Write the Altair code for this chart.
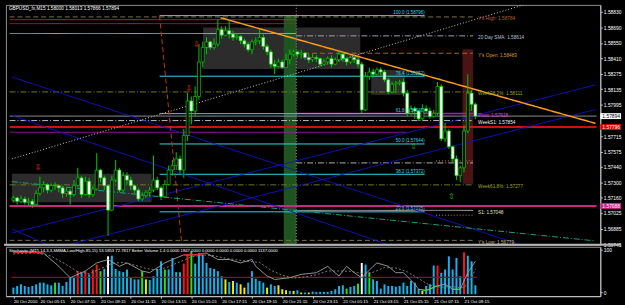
import json
import altair as alt
import pandas as pd

# ---------------- GBPUSD M15 candles (20 Oct 03:30 -> 21 Oct 10:00) ----------------
first_open = 1.5714
closes = [1.5716, 1.5713, 1.5715, 1.5712, 1.5713, 1.5710, 1.5720, 1.5725, 1.5728, 1.5723,
          1.5727, 1.5727, 1.5725, 1.5720, 1.5722, 1.5719, 1.5727, 1.5734, 1.5719, 1.5731,
          1.5719, 1.5724, 1.5741, 1.5734, 1.5727, 1.5705, 1.5732, 1.5741, 1.5723, 1.5736,
          1.5732, 1.5727, 1.5723, 1.5715, 1.5718, 1.5721, 1.5723, 1.5732, 1.5725, 1.5717,
          1.5728, 1.5741, 1.5745, 1.5751, 1.5741, 1.5772, 1.5803, 1.5794, 1.5807, 1.5838,
          1.5851, 1.5856, 1.5851, 1.5854, 1.5867, 1.5862, 1.5866, 1.5863, 1.5860, 1.5861,
          1.5857, 1.5854, 1.5849, 1.5856, 1.5857, 1.5860, 1.5852, 1.5847, 1.5836, 1.5834,
          1.5838, 1.5833, 1.5840, 1.5845, 1.5847, 1.5845, 1.5846, 1.5842, 1.5840, 1.5842,
          1.5841, 1.5836, 1.5838, 1.5841, 1.5836, 1.5840, 1.5845, 1.5841, 1.5838, 1.5842,
          1.5840, 1.5836, 1.5795, 1.5825, 1.5829, 1.5827, 1.5831, 1.5829, 1.5822, 1.5811,
          1.5818, 1.5819, 1.5820, 1.5810, 1.5792, 1.5796, 1.5794, 1.5787, 1.5796, 1.5794,
          1.5789, 1.5792, 1.5816, 1.5769, 1.5776, 1.5762, 1.5751, 1.5736, 1.5743, 1.5776,
          1.5810, 1.5800, 1.57894]
highs = [1.5718, 1.5717, 1.5718, 1.5717, 1.5716, 1.5715, 1.5723, 1.5735, 1.5731, 1.5729,
         1.5729, 1.5730, 1.5728, 1.5727, 1.5725, 1.5724, 1.5732, 1.5743, 1.5736, 1.5735,
         1.5734, 1.5727, 1.5756, 1.5742, 1.5736, 1.5728, 1.5736, 1.5750, 1.5743, 1.5739,
         1.5739, 1.5735, 1.5727, 1.5725, 1.5721, 1.5723, 1.5726, 1.5754, 1.5735, 1.5727,
         1.5732, 1.5745, 1.5750, 1.5757, 1.5754, 1.5778, 1.5810, 1.5807, 1.5816, 1.5854,
         1.5856, 1.5860, 1.5857, 1.5859, 1.5876, 1.5870, 1.5870, 1.5875, 1.5866, 1.5864,
         1.5862, 1.5859, 1.5856, 1.5858, 1.5860, 1.5867, 1.5863, 1.5854, 1.5849, 1.5840,
         1.5841, 1.5840, 1.5845, 1.5849, 1.5849, 1.5848, 1.5849, 1.5847, 1.5845, 1.5845,
         1.5844, 1.5842, 1.5841, 1.5843, 1.5844, 1.5842, 1.5849, 1.5847, 1.5842, 1.5844,
         1.5844, 1.5842, 1.5838, 1.5829, 1.5833, 1.5832, 1.5833, 1.5833, 1.5831, 1.5824,
         1.5820, 1.5821, 1.5822, 1.5823, 1.5813, 1.5799, 1.5798, 1.5795, 1.5800, 1.5799,
         1.5797, 1.5795, 1.5820, 1.5818, 1.5783, 1.5778, 1.5763, 1.5754, 1.5745, 1.5781,
         1.5827, 1.5813, 1.58013]
lows = [1.5712, 1.5710, 1.5711, 1.5710, 1.5709, 1.5707, 1.5709, 1.5718, 1.5721, 1.5720,
        1.5721, 1.5723, 1.5721, 1.5716, 1.5717, 1.5710, 1.5717, 1.5726, 1.5716, 1.5718,
        1.5716, 1.5717, 1.5723, 1.5730, 1.5723, 1.5682, 1.5704, 1.5730, 1.5721, 1.5721,
        1.5728, 1.5723, 1.5720, 1.5713, 1.5713, 1.5716, 1.5717, 1.5721, 1.5723, 1.5714,
        1.5716, 1.5727, 1.5736, 1.5741, 1.5738, 1.5734, 1.5767, 1.5782, 1.5789, 1.5804,
        1.5833, 1.5845, 1.5849, 1.5849, 1.5852, 1.5859, 1.5861, 1.5859, 1.5857, 1.5858,
        1.5854, 1.5851, 1.5847, 1.5845, 1.5853, 1.5854, 1.5849, 1.5844, 1.5833, 1.5827,
        1.5833, 1.5832, 1.5833, 1.5836, 1.5843, 1.5842, 1.5841, 1.5840, 1.5837, 1.5838,
        1.5838, 1.5834, 1.5835, 1.5836, 1.5833, 1.5835, 1.5838, 1.5838, 1.5835, 1.5836,
        1.5837, 1.5833, 1.5792, 1.5794, 1.5822, 1.5824, 1.5826, 1.5826, 1.5820, 1.5809,
        1.5810, 1.5810, 1.5817, 1.5807, 1.5789, 1.5790, 1.5787, 1.5785, 1.5786, 1.5792,
        1.5787, 1.5788, 1.5790, 1.5767, 1.5766, 1.5760, 1.5748, 1.5732, 1.5730, 1.5739,
        1.5774, 1.5794, 1.57866]

# ---------------- Better Volume ----------------
volumes = [840, 1050, 1260, 1050, 924, 1050, 1260, 1470, 1470, 1260,
           1134, 1470, 1470, 1050, 1554, 2100, 2184, 2940, 2730, 2940,
           2520, 3150, 3780, 2940, 3234, 4830, 4914, 3234, 2940, 2814,
           3150, 2184, 1890, 1890, 2940, 1890, 1806, 2310, 3234, 4200,
           3150, 3150, 4620, 2814, 2814, 3906, 5040, 5460, 3906, 5250,
           5040, 3990, 3360, 3234, 2940, 2310, 1890, 1554, 1680, 1470,
           1260, 840, 1470, 2940, 1974, 1680, 1470, 840, 1260, 1050,
           1134, 630, 504, 420, 420, 504, 210, 210, 210, 336,
           294, 294, 294, 294, 420, 630, 1050, 1134, 714, 924,
           1050, 1344, 3990, 3780, 2730, 1890, 1680, 714, 1260, 1050,
           1050, 966, 1050, 1470, 1050, 1680, 1470, 630, 420, 1050,
           1260, 3654, 3654, 2730, 3150, 4830, 3150, 4620, 2310, 5334,
           4914, 4200, 1137]
vol_kind = list("bbbbbbbbbb" "bgbbbbbrbr" "brrgbwbbbb" "bbbbgybbbb" "gbbbbrrgbb"
                "bbbbbbybyb" "yybbbbbybb" "yyybybybyb" "bbbbbbbbgb" "bgwbgbbbbb"
                "bbbbbbbbyb" "bbrbbbbbbr" "bbb")
vol_avg = 2140

# ---------------- Stochastic ----------------
stoch_idx = [0, 4, 8, 12, 15, 16, 19, 22, 25, 28, 30, 34, 36, 40, 42, 45, 48, 51, 54, 57,
             60, 63, 64, 67, 69, 73, 76, 80, 83, 84, 86, 88, 90, 92, 95, 96, 99, 101, 103, 106,
             107, 109, 112, 114, 116, 118, 120, 122]
stoch_val = [94, 95, 92, 61, 34, 38, 50, 69, 77, 61, 69, 50, 46, 69, 77, 88, 88, 92, 77, 77,
             69, 77, 61, 38, 30, 34, 42, 46, 61, 53, 38, 61, 46, 34, 61, 69, 61, 46, 46, 19,
             7, 4, 15, 19, 7, 7, 46, 73]
signal_idx = [0, 6, 10, 14, 17, 20, 23, 26, 29, 32, 35, 38, 41, 44, 47, 50, 53, 56, 59, 62,
              65, 68, 71, 74, 77, 80, 83, 86, 89, 92, 95, 98, 101, 104, 107, 110, 113, 116, 119, 121, 122]
signal_val = [90, 93, 85, 65, 48, 44, 55, 68, 70, 64, 56, 52, 60, 72, 83, 88, 86, 80, 76, 73,
              70, 52, 40, 33, 36, 41, 50, 50, 49, 44, 47, 58, 57, 48, 32, 16, 12, 13, 10, 35, 54]

# ---------------- axis labels ----------------
time_tick_idx = [0, 7, 15, 23, 31, 39, 47, 55, 63, 71, 79, 87, 95, 103, 111, 119]
time_tick_lab = ["20 Oct 2010", "20 Oct 05:15", "20 Oct 07:15", "20 Oct 09:15", "20 Oct 11:15",
                 "20 Oct 13:15", "20 Oct 15:15", "20 Oct 17:15", "20 Oct 19:15", "20 Oct 21:15",
                 "20 Oct 23:15", "21 Oct 01:15", "21 Oct 03:15", "21 Oct 05:15", "21 Oct 07:15",
                 "21 Oct 09:15"]
price_ticks = [1.58830, 1.58690, 1.58550, 1.58410, 1.58275, 1.58135, 1.57995, 1.57715,
               1.57575, 1.57440, 1.57300, 1.57160, 1.57025, 1.56885, 1.56745]

# ---------------- horizontal level objects ----------------
level_price = [1.58784, 1.58759, 1.58724, 1.58635, 1.58614, 1.58458, 1.58111, 1.57918, 1.57894,
               1.57854, 1.57796, 1.57749, 1.57474, 1.57492, 1.57277, 1.57088, 1.57048, 1.57005, 1.56779]
level_from = [-1, -1, -1, -1, 74.7, 74.7, -1, 74.7, -1, -1, -1, -1, 74.7, 111.6, -1, -1, 74.7, 111.6, -1]
level_to = [121.4, 74.7, 74.7, 74.7, 121.4, 121.4, 121.4, 121.4, 154, 121.4, 154, 104, 121.4, 121.4,
            121.4, 154, 121.4, 121.4, 121.4]
level_color = ["#7d7348", "#a0401c", "#c81414", "#8fb0b0", "#a89cae", "#a8680c", "#707a1c", "#b418b4",
               "#9a9a9a", "#bdbdbd", "#d01010", "#9a1a9a", "#b0b0b0", "#c8841e", "#707a1c", "#c8287e",
               "#a8a8a8", "#c8841e", "#7d7348"]
level_style = ["dash", "solid", "solid", "solid", "dashdot", "dash", "dashdot", "solid", "solid",
               "dashdot", "solid", "solid", "dashdot", "dot", "dashdot", "solid", "solid", "dot", "dash"]
level_width = [1, 1, 1, 1, 1, 1, 1, 1.5, 1, 1, 2, 1, 1, 1, 1, 2, 1, 1, 1]

# Fibonacci retracement
fib_pct = ["100.0", "76.4", "61.8", "50.0", "38.2", "23.6"]
fib_price = [1.58796, 1.58252, 1.57916, 1.57644, 1.57372, 1.57035]
fib_from, fib_to = 38.6, 108.6

# trend lines: start bar, start price, end bar, end price
trend_i0 = [-0.4, -0.4, -0.4, -0.4, 14.5, 54.7, -0.4, -0.4, 38.6]
trend_p0 = [1.58245, 1.57900, 1.56881, 1.56845, 1.56739, 1.58777, 1.57510, 1.57306, 1.58795]
trend_i1 = [134.0, 100.6, 9.1, 153.7, 153.7, 153.7, 134.7, 153.7, 45.2]
trend_p1 = [1.56739, 1.56721, 1.56739, 1.58174, 1.57953, 1.57829, 1.58892, 1.56774, 1.56491]
trend_color = ["#1414c8", "#1414c8", "#1414c8", "#1414c8", "#1414c8", "#ff9a1a", "#c8c8c8", "#1aa080", "#c0341a"]
trend_style = ["solid", "solid", "solid", "solid", "solid", "solid", "dot", "dashdot", "dash"]
trend_width = [1, 1, 1, 1, 1, 1.5, 1, 1, 1]

# rectangles: bars and prices
rect_i0 = [-0.4, 50.1, 94.5, 71.4, 118.6]
rect_i1 = [36.5, 91.6, 103.4, 74.7, 121.4]
rect_p0 = [1.57377, 1.58688, 1.58307, 1.58795, 1.58493]
rect_p1 = [1.57120, 1.58316, 1.58086, 1.56739, 1.57288]
rect_color = ["#2c2c2c", "#2c2c2c", "#2c2c2c", "#1e5420", "#4a1414"]

period_sep = [74.7]

# right side notes
note_text = ["Y's High: 1.58784", "20 Day SMA: 1.58614", "Y's Open: 1.58483", "Week38.2%: 1.58111",
             "Pivot: 1.57918", "WeekS1: 1.57854", "Week61.8%: 1.57277", "S1: 1.57048", "Y's Low: 1.56779"]
note_price = [1.58784, 1.58614, 1.58458, 1.58111, 1.57918, 1.57854, 1.57277, 1.57048, 1.56779]
note_color = ["#c0583a", "#b4c0d4", "#d89a2a", "#9aa632", "#e040e0", "#f0f0f0", "#9aa632", "#e0e0c0", "#c8b870"]
note_bar = 122.7

# fractal arrows
arrow_idx = [48.3, 46.3, 6.5, 115.7, 105.7]
arrow_price = [1.58529, 1.58139, 1.57430, 1.57164, 1.57616]
arrow_char = ["⇩", "⇩", "⇩", "⇧", "⇧"]
arrow_color = ["#ff2020", "#ff2020", "#ff2020", "#20c020", "#20c020"]

# axis price tags
tag_price = [1.57894, 1.57796, 1.57088]
tag_bg = ["#ffffff", "#e00000", "#d0208a"]
tag_fg = ["#000000", "#ffffff", "#ffffff"]

title_text = "GBPUSD_fx,M15  1.58000 1.58013 1.57866 1.57894"
stoch_text = ("Stochastic (M15,14,3,3,SMMA,Low/High,85,15) 53.5853 72.7817  Better Volume 1.4 0.0000 "
              "1847.0000 0.0000 0.0000 0.0000 0.0000 1137.0000")

# ---------------- build ----------------
FONT = "Liberation Sans"
W, H1, H2 = 602, 243, 50
xs = alt.Scale(domain=[-0.667, 153.69], nice=False, zero=False)
ys = alt.Scale(domain=[1.56739, 1.58892], nice=False, zero=False)
ss = alt.Scale(domain=[-9.3, 106.98], nice=False, zero=False)
vs = alt.Scale(domain=[-252, 6048], nice=False, zero=False)
DASH = {"solid": [1, 0], "dash": [5, 3], "dashdot": [6, 2, 1, 2], "dot": [1, 2]}

price_axis = alt.Axis(orient="right", values=price_ticks, format=".5f", tickSize=2, labelPadding=1,
                      labelFontSize=5, labelFont=FONT, labelColor="#ffffff", domainColor="#c8c8c8",
                      tickColor="#c8c8c8", grid=False, title=None, labelOverlap=False, labelFlush=False,
                      labelBound=False)
time_expr = "%s[indexof(%s, datum.value)]" % (json.dumps(time_tick_lab), json.dumps(time_tick_idx))
time_axis = alt.Axis(orient="bottom", values=time_tick_idx, labelExpr=time_expr, tickSize=2,
                     labelAlign="left", labelBaseline="top", labelPadding=1, labelFontSize=4.4,
                     labelFont=FONT, labelColor="#ffffff", domainColor="#c8c8c8", tickColor="#c8c8c8",
                     grid=False, title=None, labelOverlap=False, labelFlush=False, labelBound=False)


def X(f, ax=None):
    if ax is None:
        return alt.X(f, type="quantitative", scale=xs, axis=None)
    return alt.X(f, type="quantitative", scale=xs, axis=ax)


def Y(f):
    return alt.Y(f, type="quantitative", scale=ys, axis=price_axis)


n = len(closes)
opens = [first_open] + closes[:-1]
cdf = pd.DataFrame({"i": list(range(n)), "o": opens, "h": highs, "l": lows, "c": closes})

rdf = pd.DataFrame({"x0": rect_i0, "x1": rect_i1, "p0": rect_p0, "p1": rect_p1, "col": rect_color})
rects = alt.Chart(rdf).mark_rect(clip=True).encode(
    x=X("x0"), x2="x1:Q", y=Y("p0"), y2="p1:Q", color=alt.Color("col:N", scale=None))

ldf = pd.DataFrame({"x0": level_from, "x1": level_to, "p": level_price, "col": level_color,
                    "st": level_style, "w": level_width})
level_layers = []
for st, d in DASH.items():
    sub = ldf[ldf.st == st]
    if len(sub):
        level_layers.append(alt.Chart(sub).mark_rule(clip=True, strokeDash=d).encode(
            x=X("x0"), x2="x1:Q", y=Y("p"), color=alt.Color("col:N", scale=None),
            strokeWidth=alt.StrokeWidth("w:Q", scale=None)))

fdf = pd.DataFrame({"x0": [fib_from] * len(fib_price), "x1": [fib_to] * len(fib_price), "p": fib_price,
                    "lab": [f"{a} ({b:.5f})" for a, b in zip(fib_pct, fib_price)]})
fib_rules = alt.Chart(fdf).mark_rule(clip=True, color="#30d8e0").encode(x=X("x0"), x2="x1:Q", y=Y("p"))
fib_text = alt.Chart(fdf).mark_text(align="right", baseline="bottom", dy=-0.5, fontSize=4.5,
                                    font=FONT, color="#30d8e0").encode(x=X("x1"), y=Y("p"), text="lab:N")

tdf = pd.DataFrame({"x0": trend_i0, "p0": trend_p0, "x1": trend_i1, "p1": trend_p1, "col": trend_color,
                    "st": trend_style, "w": trend_width})
trend_layers = []
for st, d in DASH.items():
    sub = tdf[tdf.st == st]
    if len(sub):
        trend_layers.append(alt.Chart(sub).mark_rule(clip=True, strokeDash=d).encode(
            x=X("x0"), x2="x1:Q", y=Y("p0"), y2="p1:Q", color=alt.Color("col:N", scale=None),
            strokeWidth=alt.StrokeWidth("w:Q", scale=None)))

vline = alt.Chart(pd.DataFrame({"i": period_sep})).mark_rule(color="#9a9a9a", strokeDash=[1, 2]).encode(x=X("i"))

wicks = alt.Chart(cdf).mark_rule(color="#00c800", strokeWidth=1).encode(
    x=X("i"), y=Y("l"), y2="h:Q")
bodies = alt.Chart(cdf).mark_bar(size=3, stroke="#00d000", strokeWidth=0.7).encode(
    x=X("i"), y=Y("o"), y2="c:Q",
    fill=alt.condition("datum.c < datum.o", alt.value("#ffffff"), alt.value("#000000")))

adf = pd.DataFrame({"i": arrow_idx, "p": arrow_price, "ch": arrow_char, "col": arrow_color})
arrows = alt.Chart(adf).mark_text(fontSize=8, font="DejaVu Sans").encode(
    x=X("i"), y=Y("p"), text="ch:N", color=alt.Color("col:N", scale=None))

ndf = pd.DataFrame({"i": [note_bar] * len(note_text), "p": note_price, "t": note_text, "col": note_color})
notes = alt.Chart(ndf).mark_text(align="left", baseline="middle", dy=2.5, fontSize=4.8, font=FONT).encode(
    x=X("i"), y=Y("p"), text="t:N", color=alt.Color("col:N", scale=None))

title = alt.Chart(pd.DataFrame({"t": [title_text]})).mark_text(
    align="left", baseline="top", fontSize=4.8, font=FONT, color="#ffffff").encode(
    x=alt.value(3), y=alt.value(1), text="t:N")

tagdf = pd.DataFrame({"p": tag_price, "bg": tag_bg, "fg": tag_fg, "t": [f"{v:.5f}" for v in tag_price]})
tag_rules = alt.Chart(tagdf).mark_rule(strokeWidth=6).encode(
    x=alt.value(602), x2=alt.value(623), y=Y("p"), color=alt.Color("bg:N", scale=None))
tag_text = alt.Chart(tagdf).mark_text(align="left", baseline="middle", fontSize=5, font=FONT).encode(
    x=alt.value(604), y=Y("p"), text="t:N", color=alt.Color("fg:N", scale=None))

sep = alt.Chart(pd.DataFrame({"a": [0]})).mark_rule(color="#b4b4b4", strokeWidth=2).encode(
    x=alt.value(-2), x2=alt.value(623), y=alt.value(H1))

main = alt.layer(rects, *level_layers, fib_rules, *trend_layers, vline, wicks, bodies, arrows,
                 fib_text, notes, title, tag_rules, tag_text, sep).properties(width=W, height=H1)

# ---------------- lower panel ----------------
stoch_axis = alt.Axis(orient="right", values=[0, 100], format="d", tickSize=2, labelPadding=1,
                      labelFontSize=5, labelFont=FONT, labelColor="#ffffff", domainColor="#c8c8c8",
                      tickColor="#c8c8c8", grid=False, title=None, labelOverlap=False, labelBound=False,
                      labelFlush=False)
vdf = pd.DataFrame({"i": list(range(n)), "v": volumes, "k": vol_kind})
vol_bars = alt.Chart(vdf).mark_bar(size=2).encode(
    x=X("i", time_axis), y=alt.Y("v:Q", scale=vs, axis=None),
    color=alt.Color("k:N", scale=alt.Scale(domain=["b", "r", "g", "w", "y"],
                                           range=["#12b4f0", "#ff1414", "#22e022", "#ffffff", "#eeee00"]),
                    legend=None))
vavg = alt.Chart(pd.DataFrame({"x0": [-0.5], "x1": [122.5], "v": [vol_avg]})).mark_rule(
    color="#a80000", strokeWidth=1.2).encode(x=X("x0", time_axis), x2="x1:Q",
                                             y=alt.Y("v:Q", scale=vs, axis=None))

sdf = pd.DataFrame({"i": stoch_idx, "s": stoch_val})
sig_df = pd.DataFrame({"i": signal_idx, "s": signal_val})
stoch_line = alt.Chart(sdf).mark_line(color="#a0a0a0", strokeWidth=0.9).encode(
    x=X("i", time_axis), y=alt.Y("s:Q", scale=ss, axis=stoch_axis))
sig_line = alt.Chart(sig_df).mark_line(color="#8c8c8c", strokeWidth=0.9, strokeDash=[2, 2]).encode(
    x=X("i", time_axis), y=alt.Y("s:Q", scale=ss, axis=None))

# overbought / oversold runs of the main line
seg_rows = []
seg_id = 0
prev = None
for a, b in zip(stoch_idx, stoch_val):
    zone = "hi" if b >= 85 else ("lo" if b <= 15 else None)
    if zone is not None:
        if zone != prev:
            seg_id += 1
        seg_rows.append({"i": a, "s": b, "seg": seg_id, "col": "#ff2020" if zone == "hi" else "#30e030"})
    prev = zone
segdf = pd.DataFrame(seg_rows)
seg_lines = alt.Chart(segdf).mark_line(strokeWidth=1.1).encode(
    x=X("i", time_axis), y=alt.Y("s:Q", scale=ss, axis=None), detail="seg:N",
    color=alt.Color("col:N", scale=None))

stoch_label = alt.Chart(pd.DataFrame({"t": [stoch_text]})).mark_text(
    align="left", baseline="top", fontSize=4.3, font=FONT, color="#ffffff").encode(
    x=alt.value(3), y=alt.value(2), text="t:N")

lower = alt.layer(vol_bars, vavg, sig_line, stoch_line, seg_lines, stoch_label).resolve_scale(
    y="independent").properties(width=W, height=H2)

chart = alt.vconcat(main, lower, spacing=2, bounds="flush").properties(
    padding={"left": 2, "top": 2, "right": 0, "bottom": 0}
).configure(background="#000000").configure_view(stroke="#909090", strokeWidth=1)

chart.save("out.html", embed_options={"renderer": "svg", "actions": False})
